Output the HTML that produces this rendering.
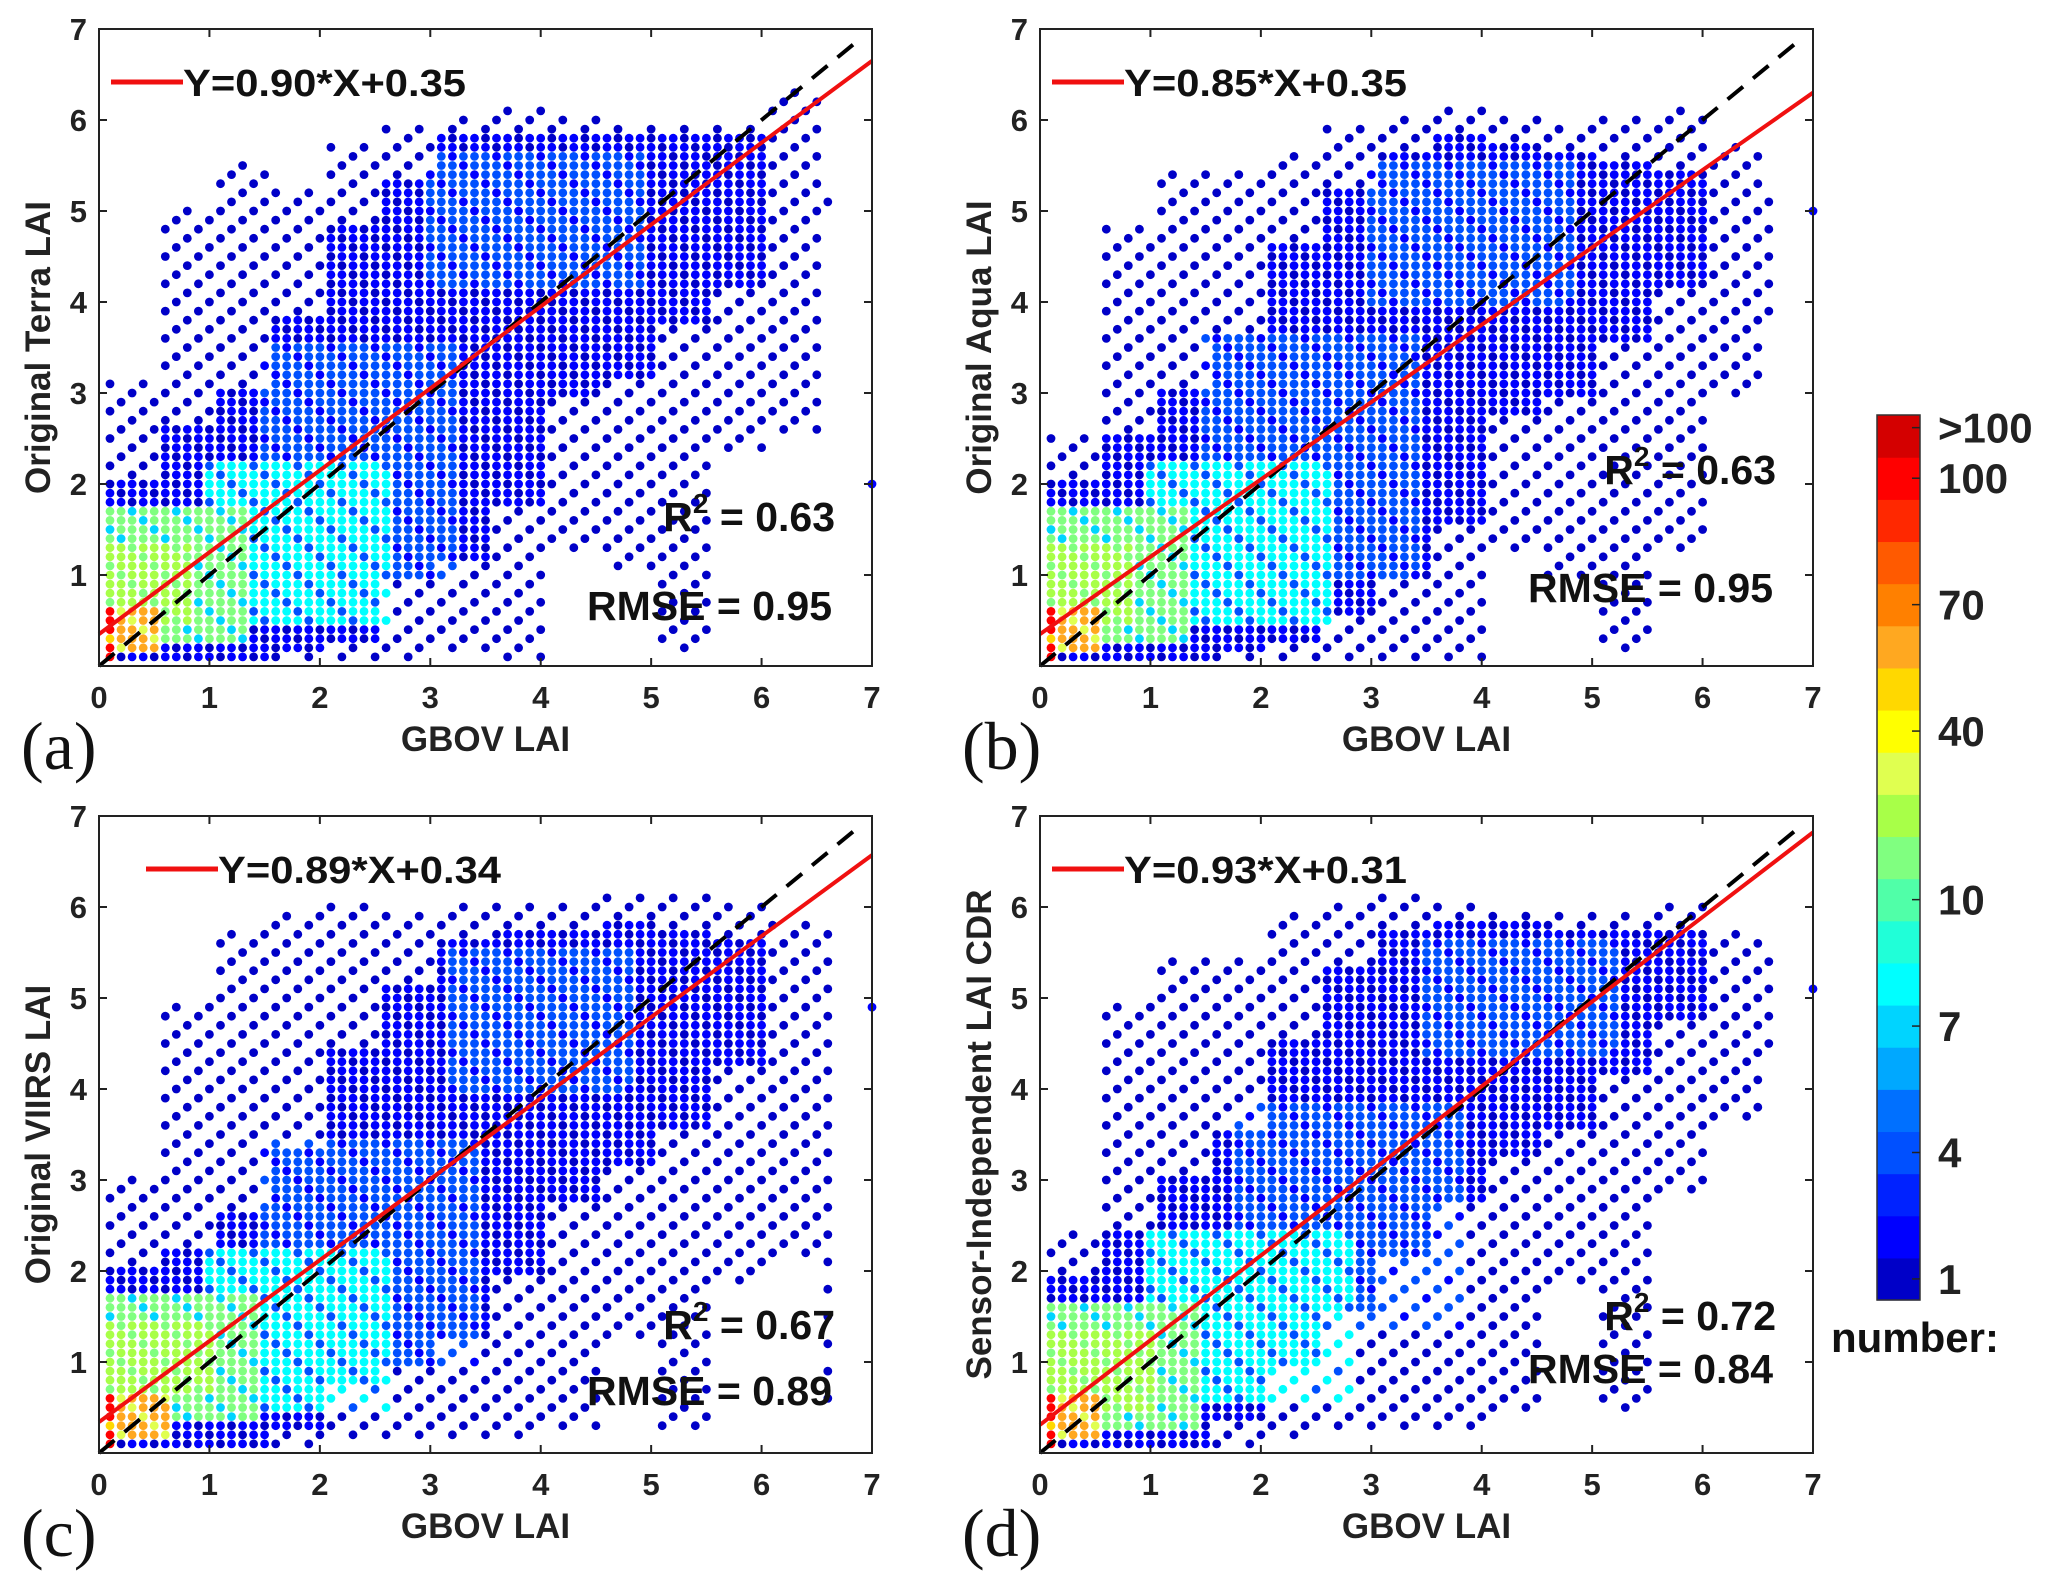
<!DOCTYPE html>
<html><head><meta charset="utf-8"><style>
html,body{margin:0;padding:0;background:#fff;}
svg{display:block;font-family:"Liberation Sans",Arial,sans-serif;}
</style></head><body>
<svg id="chart" width="2067" height="1595" viewBox="0 0 2067 1595"></svg>
<script>
// ---------- data ----------
const panelIds = ['a','b','c','d'];
const fitSlope = [0.90, 0.85, 0.89, 0.93];
const fitIntercept = [0.35, 0.35, 0.34, 0.31];
const r2Values = ['0.63','0.63','0.67','0.72'];
const rmseValues = ['0.95','0.95','0.89','0.84'];
const yTitles = ['Original Terra LAI','Original Aqua LAI','Original VIIRS LAI','Sensor-Independent LAI CDR'];
const tickLabels = [0,1,2,3,4,5,6,7];
const binStart = [0,0.5,1,1.5,2,2.5,3,3.5,4,4.5,5,5.5,6,6.5];
const coreLoA = [0.1,0.1,0.1,0.2,0.3,1.0,1.2,1.8,3.0,3.2,3.8,4.2,-1,-1];
const coreHiA = [2.0,2.6,3.0,3.8,4.8,5.3,5.8,5.8,5.8,5.8,5.8,5.8,-1,-1];
const sparseLoA = [0.1,0.1,0.1,0.1,0.1,0.1,0.2,0.1,1.3,1.1,0.2,2.4,2.6,5.0];
const sparseHiA = [3.1,5.0,5.5,5.2,5.7,5.9,6.0,6.1,6.0,5.9,5.9,5.9,6.3,5.3];
const coreLoB = [0.1,0.1,0.1,0.2,0.3,0.6,1.0,1.6,2.8,3.0,3.6,4.2,-1,-1];
const coreHiB = [2.0,2.5,3.0,3.6,4.6,5.2,5.6,5.8,5.7,5.6,5.5,5.4,-1,-1];
const sparseLoB = [0.1,0.1,0.1,0.1,0.1,0.1,0.1,0.1,1.3,1.0,0.2,1.3,3.0,3.8];
const sparseHiB = [2.5,4.8,5.4,5.4,5.6,5.9,6.0,6.1,6.0,5.9,6.0,6.1,5.7,5.3];
const coreLoC = [0.1,0.1,0.1,0.3,0.8,1.0,1.3,2.0,2.8,3.2,3.6,4.3,-1,-1];
const coreHiC = [2.0,2.2,2.6,3.3,4.4,5.1,5.6,5.7,5.7,5.8,5.7,5.6,-1,-1];
const sparseLoC = [0.1,0.1,0.1,0.1,0.2,0.2,0.2,0.2,0.3,1.3,0.3,1.9,2.2,0.4];
const sparseHiC = [3.0,4.9,5.7,5.9,6.0,5.9,6.0,6.0,6.0,6.1,6.1,6.0,5.8,5.8];
const coreLoD = [0.1,0.1,0.1,0.4,1.0,1.6,2.2,2.8,3.3,3.6,4.2,4.8,-1,-1];
const coreHiD = [1.9,2.4,3.0,3.5,4.5,5.3,5.7,5.8,5.8,5.7,5.7,5.7,-1,-1];
const sparseLoD = [0.1,0.1,0.1,0.1,0.2,0.3,0.3,0.3,0.5,1.9,0.5,2.9,3.7,4.5];
const sparseHiD = [2.4,4.9,5.4,5.4,5.9,6.0,6.1,6.0,5.9,5.9,5.9,6.0,5.7,5.6];
const maxColX = [6.6, 6.6, 6.6, 6.6];
// hotspot rectangles: x0,x1,y0,y1,count
const hotA = [[1.5,3.2,1.0,3.5,4],[3.0,4.9,4.2,5.6,4],[1.0,2.6,0.5,2.2,8],[0.1,1.3,0.3,1.7,14],[0.1,0.8,0.5,1.3,28],[0.2,0.5,0.2,0.6,60],[0.1,0.1,0.1,0.6,100]];
const hotB = [[1.5,3.4,1.0,3.6,4],[3.0,4.8,4.0,5.5,4],[1.0,2.6,0.5,2.2,8],[0.1,1.3,0.3,1.7,14],[0.1,0.8,0.5,1.3,28],[0.2,0.5,0.2,0.6,60],[0.1,0.1,0.1,0.6,100]];
const hotC = [[1.5,3.4,1.0,3.4,4],[3.2,4.8,4.0,5.5,4],[1.0,2.6,0.5,2.2,8],[0.1,1.4,0.4,1.7,14],[0.1,1.0,0.7,1.4,28],[0.2,0.6,0.2,0.6,60],[0.1,0.1,0.1,0.6,100]];
const hotD = [[1.8,3.8,1.4,3.8,4],[3.5,5.2,4.4,5.6,4],[1.0,2.8,0.6,2.4,8],[0.1,1.4,0.3,1.6,14],[0.1,1.0,0.5,1.3,28],[0.2,0.5,0.2,0.6,60],[0.1,0.1,0.1,0.6,100]];
const edgePointY = [2.0, 5.0, 4.9, 5.1];
const cbColors = ['#0000c8','#0000ff','#0022ff','#0050ff','#0070ff','#00a8ff','#00d4ff','#00ffff','#20ffd8','#50ffa8','#80ff80','#a8ff48','#e0ff50','#ffff00','#ffd800','#ffa820','#ff8000','#ff5a00','#ff2800','#ff0000','#d40000'];
const cbLabels = ['>100','100','70','40','10','7','4','1'];
const cbLabelIdx = [20.7,19.5,16.5,13.5,9.5,6.5,3.5,0.5];
const countKnots = [1,4,7,10,40,70,100,101];
const idxKnots = [0,3,6,9,13,16,19,20];

const coreLo=[coreLoA,coreLoB,coreLoC,coreLoD], coreHi=[coreHiA,coreHiB,coreHiC,coreHiD];
const sparseLo=[sparseLoA,sparseLoB,sparseLoC,sparseLoD], sparseHi=[sparseHiA,sparseHiB,sparseHiC,sparseHiD];
const hots=[hotA,hotB,hotC,hotD];

const lefts=[99,1040,99,1040], tops=[29,29,816,816];
const W=773, H=637;
const NS='http://www.w3.org/2000/svg';
const svg=document.getElementById('chart');
function mk(tag,attrs,parent){const e=document.createElementNS(NS,tag);for(const k in attrs)e.setAttribute(k,attrs[k]);(parent||svg).appendChild(e);return e;}
function countToIdx(c){
  if(c>=101)return 20;
  for(let i=0;i<countKnots.length-1;i++){if(c<=countKnots[i+1]){const t=(c-countKnots[i])/(countKnots[i+1]-countKnots[i]);return Math.round(idxKnots[i]+t*(idxKnots[i+1]-idxKnots[i]));}}
  return 20;
}
const r1=v=>Math.round(v*10)/10;

for(let p=0;p<4;p++){
  const L=lefts[p],T=tops[p];
  const sx=v=>L+v*W/7, sy=v=>T+H-v*H/7;
  const g=mk('g',{});
  
  
  const clip=mk('clipPath',{id:'clip'+p},g);
  mk('rect',{x:L,y:T,width:W,height:H},clip);
  const dots=mk('g',{'clip-path':'url(#clip'+p+')'},g);
  
  
  for(let b=0;b<binStart.length;b++){
    for(let k=1;k<=5;k++){
      const x=r1(binStart[b]+k*0.1);
      if(x>maxColX[p]+1e-9)continue;
      const i=Math.round(x*10);
      for(let j=1;j<=63;j++){
        const y=j/10;
        let count=0;
        const inCore=coreLo[p][b]>=0 && y>=coreLo[p][b]-1e-9 && y<=coreHi[p][b]+1e-9;
        const inSparse=y>=sparseLo[p][b]-1e-9 && y<=sparseHi[p][b]+1e-9;
        if(inCore)count=(i+j)%3===0?1:2;
        else if(inSparse && (i+2*j)%3===0)count=1;
        if(!count)continue;
        for(const h of hots[p]){
          if(x>=h[0]-1e-9&&x<=h[1]+1e-9&&y>=h[2]-1e-9&&y<=h[3]+1e-9){
            const v=((i*7+j*3)%4===0)?Math.max(1,Math.round(h[4]*0.5)):h[4];
            count=Math.max(count,v);
          }
        }
        const c=mk('circle',{cx:sx(x).toFixed(1),cy:sy(y).toFixed(1),r:4.4,fill:cbColors[countToIdx(count)]},dots);
        
        
      }
    }
  }
  const ep=mk('circle',{cx:sx(7),cy:sy(edgePointY[p]),r:4.4,fill:'#0000ff'},g);
  
  
  const dl=mk('line',{x1:sx(0),y1:sy(0),x2:sx(6.9),y2:sy(6.9),stroke:'#000','stroke-width':4,'stroke-dasharray':'20,13'},g);
  
  
  const fy=v=>fitSlope[p]*v+fitIntercept[p];
  const fl=mk('line',{x1:sx(0),y1:sy(fy(0)),x2:sx(7),y2:sy(fy(7)),stroke:'#f01010','stroke-width':4},g);
  
  
  const fr=mk('rect',{x:L,y:T,width:W,height:H,fill:'none',stroke:'#222','stroke-width':2},g);
  
  
  for(const v of tickLabels){
    if(v>0&&v<7){
      mk('line',{x1:sx(v),y1:T+H,x2:sx(v),y2:T+H-8,stroke:'#222','stroke-width':2},g);
      mk('line',{x1:sx(v),y1:T,x2:sx(v),y2:T+8,stroke:'#222','stroke-width':2},g);
      mk('line',{x1:L,y1:sy(v),x2:L+8,y2:sy(v),stroke:'#222','stroke-width':2},g);
      mk('line',{x1:L+W,y1:sy(v),x2:L+W-8,y2:sy(v),stroke:'#222','stroke-width':2},g);
    }
    const xt=mk('text',{x:sx(v),y:T+H+42,'text-anchor':'middle','font-size':31,'font-weight':'bold',fill:'#222'},g);
    xt.textContent=v;
    
    
    if(v>0){
      const yt=mk('text',{x:L-12,y:sy(v)+11,'text-anchor':'end','font-size':31,'font-weight':'bold',fill:'#222'},g);
      yt.textContent=v;
      
      
    }
  }
  const xtit=mk('text',{x:L+W/2,y:T+H+85,'text-anchor':'middle','font-size':35,'font-weight':'bold',fill:'#222'},g);
  xtit.textContent='GBOV LAI';
  
  
  const ytit=mk('text',{x:0,y:0,'text-anchor':'middle','font-size':35,'font-weight':'bold',fill:'#222',transform:'translate('+(L-49)+','+(T+H/2)+') rotate(-90)'},g);
  ytit.textContent=yTitles[p];
  
  
  const lab=mk('text',{x:L-78,y:T+H+103,'font-size':68,'font-family':'Liberation Serif, serif',fill:'#111'},g);
  lab.textContent='('+panelIds[p]+')';
  
  
  const lx=(p===2)?L+47:L+12;
  const ly=T+53;
  mk('line',{x1:lx,y1:ly,x2:lx+72,y2:ly,stroke:'#f01010','stroke-width':5},g);
  const lt=mk('text',{x:lx+72,y:ly+14,'font-size':38,'font-weight':'bold',fill:'#111',textLength:283,lengthAdjust:'spacingAndGlyphs'},g);
  lt.textContent='Y='+fitSlope[p].toFixed(2)+'*X+'+fitIntercept[p].toFixed(2);
  
  
  const r2y=[531,484,1339,1330][p], rmy=[620,602,1405,1383][p];
  const rt=mk('text',{x:L+W-37,y:r2y,'text-anchor':'end','font-size':41,'font-weight':'bold',fill:'#111'},g);
  rt.innerHTML='R<tspan dy="-18" font-size="28">2</tspan><tspan dy="18"> = '+r2Values[p]+'</tspan>';
  
  
  const mt=mk('text',{x:L+W-40,y:rmy,'text-anchor':'end','font-size':41,'font-weight':'bold',fill:'#111'},g);
  mt.textContent='RMSE = '+rmseValues[p];
  
  
}

const cb=mk('g',{});


const cbX=1877,cbW=43,cbTop=415,cbBot=1300,segH=(cbBot-cbTop)/cbColors.length;
cbColors.forEach((c,i)=>{
  const r=mk('rect',{x:cbX,y:(cbBot-(i+1)*segH).toFixed(2),width:cbW,height:(segH+0.6).toFixed(2),fill:c},cb);
  
  
});
mk('rect',{x:cbX,y:cbTop,width:cbW,height:cbBot-cbTop,fill:'none',stroke:'#333','stroke-width':1.5},cb);
cbLabels.forEach((t,i)=>{
  const yy=cbBot-cbLabelIdx[i]*segH;
  mk('line',{x1:cbX+cbW-8,y1:yy,x2:cbX+cbW,y2:yy,stroke:'#222','stroke-width':1.5},cb);
  const tx=mk('text',{x:1938,y:yy+15,'font-size':42,'font-weight':'bold',fill:'#222'},cb);
  tx.textContent=t;
  
  
});
const nt=mk('text',{x:1831,y:1352,'font-size':42,'font-weight':'bold',fill:'#111'},cb);
nt.textContent='number:';


</script>
</body></html>
